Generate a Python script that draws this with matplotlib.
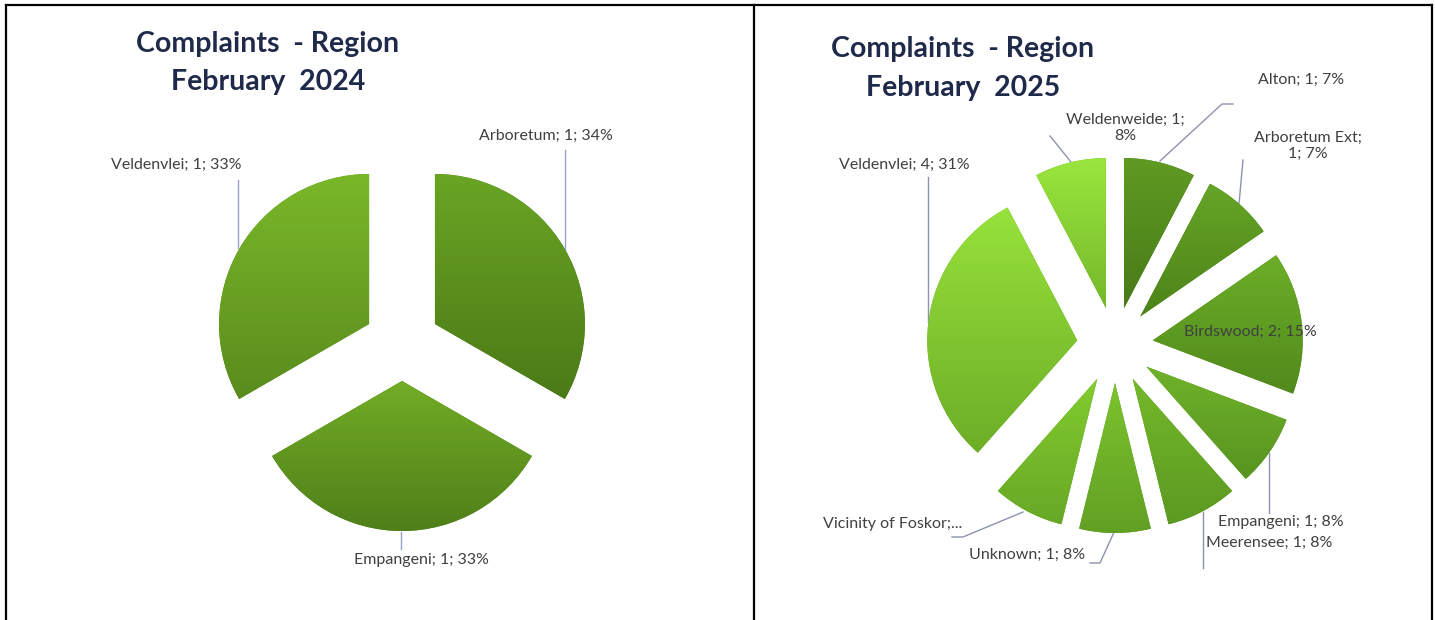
import numpy as np
import matplotlib
matplotlib.use("Agg")
import matplotlib.pyplot as plt
from matplotlib.lines import Line2D
from matplotlib.colors import to_rgb

# ---------------- data ----------------
regions_2024 = ["Arboretum", "Empangeni", "Veldenvlei"]
counts_2024 = [1, 1, 1]
pcts_2024 = [34, 33, 33]

regions_2025 = ["Alton", "Arboretum Ext", "Birdswood", "Empangeni", "Meerensee",
                "Unknown", "Vicinity of Foskor", "Veldenvlei", "Weldenweide"]
counts_2025 = [1, 1, 2, 1, 1, 1, 1, 4, 1]
pcts_2025 = [7, 7, 15, 8, 8, 8, 8, 31, 8]

title_2024 = ["Complaints  - Region", "February  2024"]
title_2025 = ["Complaints  - Region", "February  2025"]

# ---------------- styling ----------------
W, H = 1435, 620
FONT = "Lato"
TITLE_COLOR = "#1f2a4a"
LABEL_COLOR = "#404040"

grad_2024 = [("#6aa524", "#4b7a17"), ("#72ad26", "#4f7f19"), ("#7ab829", "#5a8c1e")]
grad_2025 = [("#5f9b22", "#487a18"), ("#65a526", "#4d8319"), ("#6cae28", "#518a1c"),
             ("#6fb22a", "#589420"), ("#74b92b", "#5c9921"), ("#7bc32d", "#62a024"),
             ("#82cc2f", "#67a826"), ("#97e23b", "#6cad27"), ("#9ae63d", "#74b82a")]


def label_text(name, count, pct):
    return f"{name}; {count}; {pct}%"


labels_2024 = [label_text(n, c, p) for n, c, p in zip(regions_2024, counts_2024, pcts_2024)]
labels_2025 = [label_text(n, c, p) for n, c, p in zip(regions_2025, counts_2025, pcts_2025)]
labels_2025[1] = "Arboretum Ext;\n1; 7%"
labels_2025[6] = "Vicinity of Foskor;..."
labels_2025[8] = "Weldenweide; 1;\n8%"

# label positions (pixel coords from top-left)
lab_pos_2024 = [(546, 136), (421, 560), (176, 165)]
lab_pos_2025 = [(1301, 80), (1308, 146), (1250, 332), (1281, 522), (1269, 543),
                (1027, 555), (893, 524), (904, 165), (1125, 128)]

leaders_2024 = [[(565, 150), (565, 250)], [(401, 532), (401, 549)], [(238, 180), (238, 248)]]
leaders_2025 = [[(1160, 161), (1222, 104), (1233, 104)],
                [(1243, 160), (1239, 204)],
                None,
                [(1269, 453), (1269, 513)],
                [(1203, 512), (1203, 568)],
                [(1115, 530), (1100, 563), (1090, 563)],
                [(1023, 512), (963, 537), (952, 537)],
                [(928, 177), (928, 322)],
                [(1050, 136), (1071, 162)]]

fig = plt.figure(figsize=(W / 100, H / 100), dpi=100)
ax = fig.add_axes([0, 0, 1, 1])


def py(y):
    return H - y


def gradient_pie(values, center, grads):
    wedges, _ = ax.pie(values, center=center, radius=150, startangle=90,
                       counterclock=False, explode=[38] * len(values),
                       wedgeprops=dict(linewidth=0), frame=True)
    for w, (top, bot) in zip(wedges, grads):
        bb = w.get_path().get_extents()
        n = 256
        t = np.linspace(0, 1, n)[:, None]
        c0, c1 = np.array(to_rgb(top)), np.array(to_rgb(bot))
        img = (c0 * (1 - t) + c1 * t)[:, None, :]
        w.set_facecolor(bot)
        im = ax.imshow(img, extent=[bb.x0, bb.x1, bb.y0, bb.y1], origin="upper",
                       aspect="auto", zorder=2, interpolation="bilinear")
        im.set_clip_path(w)
    return wedges


gradient_pie(counts_2024, (402, py(343)), grad_2024)
gradient_pie(counts_2025, (1115, py(345)), grad_2025)

LFS = 11.5
for txt, (x, y) in zip(labels_2024, lab_pos_2024):
    ax.text(x, py(y), txt, ha="center", va="center", fontsize=LFS, family=FONT,
            color=LABEL_COLOR, zorder=5)
for txt, (x, y) in zip(labels_2025, lab_pos_2025):
    ax.text(x, py(y), txt, ha="center", va="center", fontsize=LFS, family=FONT,
            color=LABEL_COLOR, zorder=5, linespacing=1.15)

for seg in leaders_2024:
    xs, ys = zip(*seg)
    ax.plot(xs, [py(v) for v in ys], color="#9aa3d0", lw=1, zorder=1)
for seg in leaders_2025:
    if seg is None:
        continue
    xs, ys = zip(*seg)
    ax.plot(xs, [py(v) for v in ys], color="#8c93ab", lw=1, zorder=1)

for (lines, cx, ys) in [(title_2024, 268, (44, 82)), (title_2025, 963, (49, 88))]:
    for line, y in zip(lines, ys):
        ax.text(cx, py(y), line, ha="center", va="center", fontsize=20.5,
                fontweight="bold", family=FONT, color=TITLE_COLOR)

ax.set_xlim(0, W)
ax.set_ylim(0, H)
ax.set_aspect("auto")
ax.axis("off")

# panel borders
for xs, ys in [((6, 1432), (5, 5)), ((6, 6), (5, 620)), ((754, 754), (5, 620)),
               ((1432, 1432), (5, 620))]:
    fig.add_artist(Line2D([x / W for x in xs], [1 - y / H for y in ys],
                          color="black", lw=1.6))

fig.savefig("out.png", dpi=100, facecolor="white")
